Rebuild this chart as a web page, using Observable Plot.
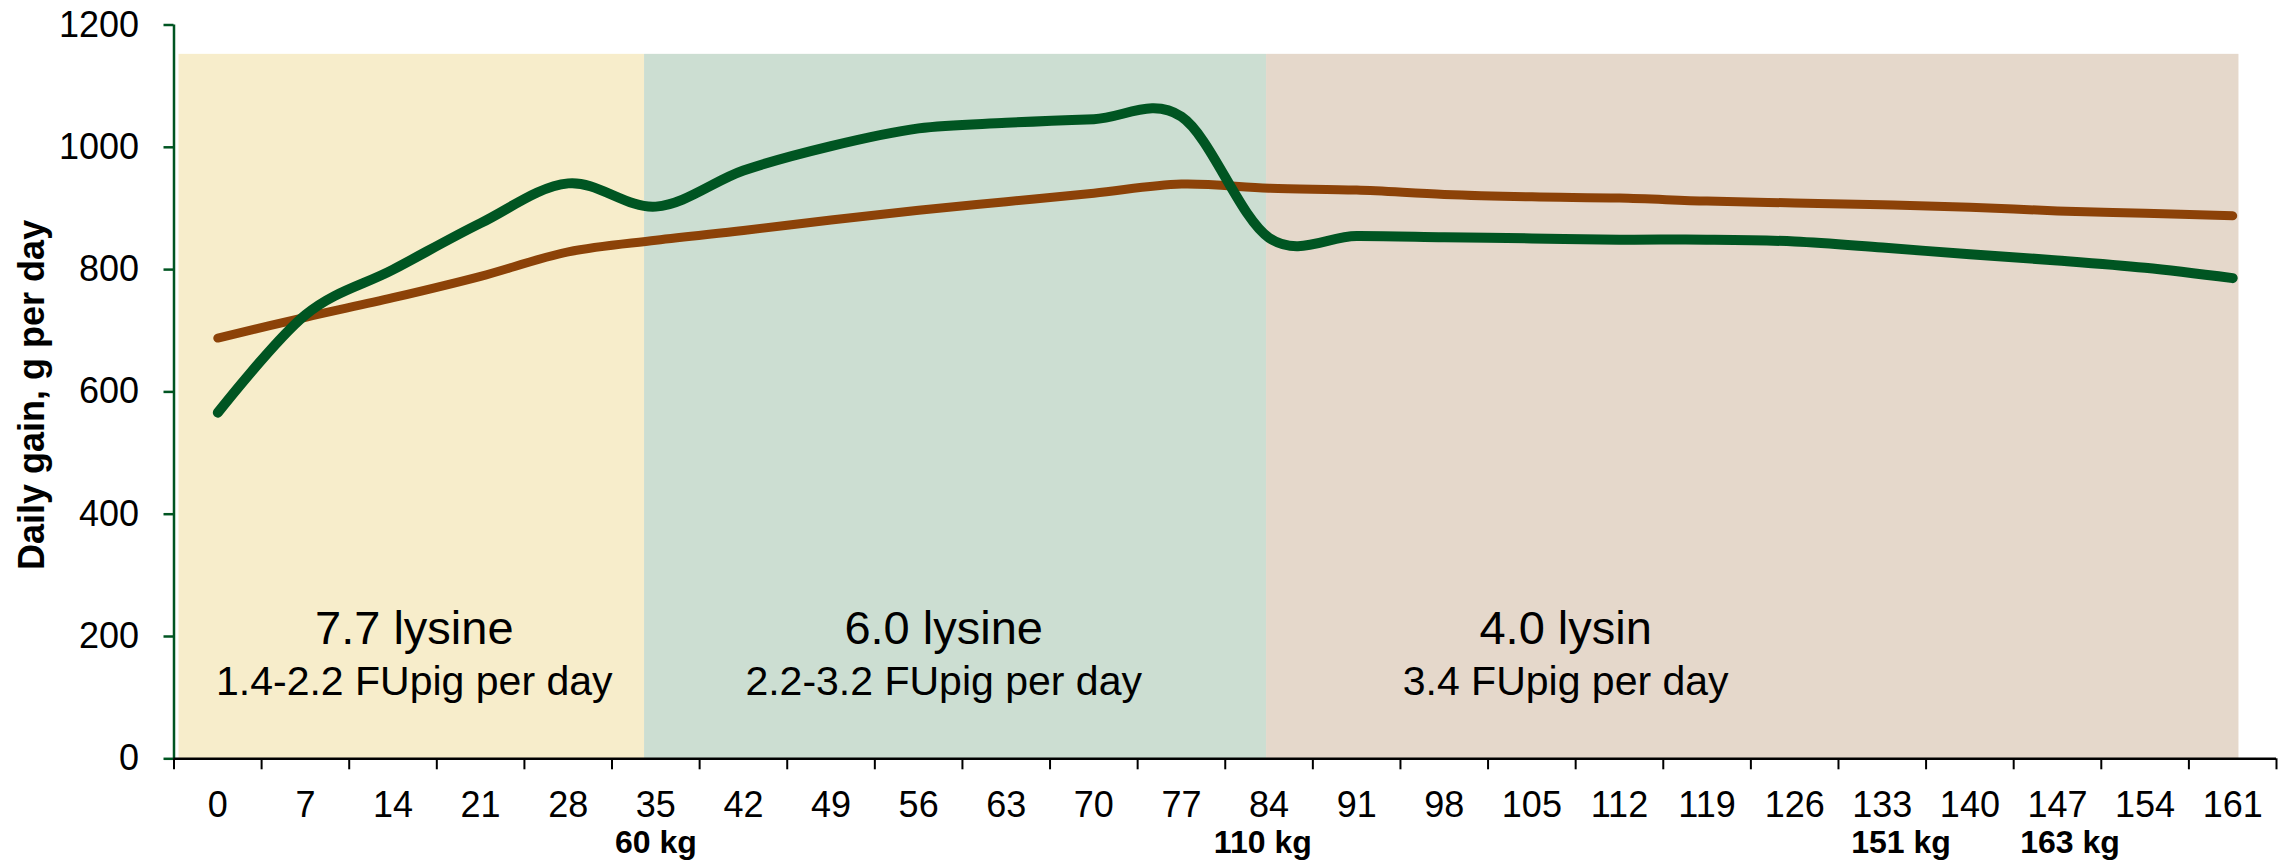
<!DOCTYPE html>
<html>
<head>
<meta charset="utf-8">
<script src="https://cdn.jsdelivr.net/npm/d3@7"></script>
<script src="https://cdn.jsdelivr.net/npm/@observablehq/plot@0.6"></script>
<style>
html, body { margin: 0; padding: 0; background: #ffffff; }
#chart { width: 2292px; height: 861px; }
</style>
</head>
<body>
<div id="chart"></div>
<script>
// ---- data ----
const days = [0, 7, 14, 21, 28, 35, 42, 49, 56, 63, 70, 77, 84, 91, 98, 105, 112, 119, 126, 133, 140, 147, 154, 161];
const gainGreen = [566, 726, 800, 876, 941, 903, 962, 1002, 1031, 1040, 1046, 1050, 852, 855, 853, 851, 849, 849, 846, 836, 825, 815, 803, 786];
const gainBrown = [688, 722, 754, 789, 829, 848, 864, 881, 897, 911, 925, 940, 933, 930, 923, 919, 917, 912, 909, 906, 902, 896, 892, 888];
const yTicks = [0, 200, 400, 600, 800, 1000, 1200];

const phaseStart = [-3.1, 34.1, 83.8];
const phaseEnd = [34.1, 83.8, 161.5];
const phaseLysine = ["7.7 lysine", "6.0 lysine", "4.0 lysin"];
const phaseFeed = ["1.4-2.2 FUpig per day", "2.2-3.2 FUpig per day", "3.4 FUpig per day"];
const phaseLabelDay = [15.7, 58, 107.7];

const weightLabels = ["60 kg", "110 kg", "151 kg", "163 kg"];
const weightDays = [35, 83.5, 134.5, 148];

const yTitle = "Daily gain, g per day";

// ---- derived tables ----
const phaseFill = ["#f7edcb", "#ccded2", "#e5d8cb"];
const phases = phaseStart.map((s, i) => ({start: s, end: phaseEnd[i], lysine: phaseLysine[i], feed: phaseFeed[i], labelDay: phaseLabelDay[i], fill: phaseFill[i]}));
const rows = days.map((d, i) => ({day: d, green: gainGreen[i], brown: gainBrown[i]}));
const bounds = days.map(d => d - 3.5).concat([days[days.length - 1] + 3.5]);
const weights = weightLabels.map((w, i) => ({label: w, day: weightDays[i]}));

const FONT = "'Liberation Sans', Arial, Helvetica, sans-serif";
const GREEN = "#005522";
const BROWN = "#8c4208";

const chart = Plot.plot({
  width: 2292,
  height: 861,
  marginLeft: 173.5,
  marginRight: 16,
  marginTop: 24.5,
  marginBottom: 102.7,
  style: {fontFamily: FONT, background: "#ffffff", color: "black", overflow: "visible"},
  x: {domain: [bounds[0], bounds[bounds.length - 1]], axis: null},
  y: {domain: [0, 1200], axis: null},
  color: {type: "identity"},
  marks: [
    Plot.rect(phases, {x1: "start", x2: "end", y1: () => 0, y2: () => 1152, fill: "fill"}),
    Plot.text(phases, {x: "labelDay", y: () => 188, text: "lysine", fontSize: 47, lineAnchor: "bottom", fill: "black"}),
    Plot.text(phases, {x: "labelDay", y: () => 104, text: "feed", fontSize: 41, lineAnchor: "bottom", fill: "black"}),
    Plot.line(rows, {x: "day", y: "brown", stroke: BROWN, strokeWidth: 9, curve: "cardinal", tension: 0, strokeLinecap: "round"}),
    Plot.line(rows, {x: "day", y: "green", stroke: GREEN, strokeWidth: 10, curve: "cardinal", tension: 0, strokeLinecap: "round"}),
    // y axis
    Plot.ruleX([bounds[0]], {y1: () => 0, y2: () => 1200, stroke: GREEN, strokeWidth: 2.5}),
    Plot.axisY({ticks: yTicks, tickSize: 10, tickPadding: 25, tickFormat: d => String(d), stroke: GREEN, strokeWidth: 2.5, fill: "black", fontSize: 36, label: null}),
    // x axis
    Plot.ruleY([0], {x1: () => bounds[0], x2: () => bounds[bounds.length - 1], stroke: "black", strokeWidth: 2.5}),
    Plot.axisX({ticks: bounds, tickSize: 11, tickFormat: () => "", stroke: "black", strokeWidth: 2, label: null}),
    Plot.axisX({ticks: days, tickSize: 0, tickPadding: 33, tickFormat: d => String(d), fontSize: 36, fill: "black", label: null}),
    Plot.text(weights, {x: "day", frameAnchor: "bottom", dy: 94, text: "label", fontSize: 32, fontWeight: "bold", lineAnchor: "bottom", fill: "black"}),
    // y title
    Plot.text([yTitle], {frameAnchor: "left", textAnchor: "middle", rotate: -90, dx: -142, dy: 3, fontSize: 36, fontWeight: "bold", fill: "black"})
  ]
});
document.getElementById("chart").appendChild(chart);
</script>
</body>
</html>
